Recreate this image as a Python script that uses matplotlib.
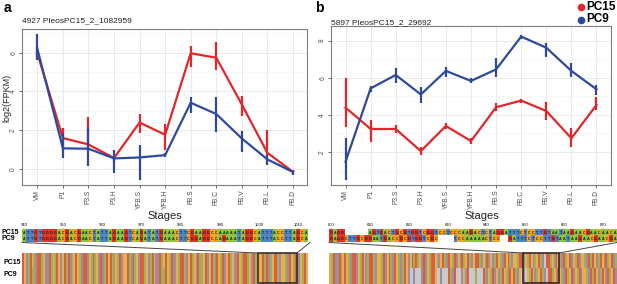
import numpy as np
import matplotlib
matplotlib.use("Agg")
import matplotlib.pyplot as plt
from matplotlib.colors import to_rgb
from matplotlib.lines import Line2D
from matplotlib.patches import Rectangle

plt.rcParams['font.family'] = ['Liberation Sans', 'DejaVu Sans']

W, H = 617, 284

stages = ["VM", "P1", "P3.S", "P3.H", "YFB.S", "YFB.H", "FB.S", "FB.C", "FB.V", "FB.L", "FB.D"]

# Panel a: 4927 PleosPC15_2_1082959
a_title = "4927 PleosPC15_2_1082959"
a_pc15 = [5.97, 1.60, 1.27, 0.57, 2.40, 1.77, 5.97, 5.74, 3.33, 0.84, -0.14]
a_pc15_lo = [5.76, 1.10, 1.00, 0.35, 1.84, 0.98, 5.28, 5.10, 2.75, 0.60, -0.25]
a_pc15_hi = [6.30, 2.13, 2.70, 0.75, 2.82, 2.30, 6.36, 6.57, 3.78, 2.00, -0.05]
a_pc9 = [6.20, 1.07, 1.05, 0.55, 0.60, 0.72, 3.42, 2.84, 1.58, 0.50, -0.15]
a_pc9_lo = [5.60, 0.55, 0.15, -0.22, -0.57, 0.62, 2.87, 1.89, 0.89, 0.20, -0.28]
a_pc9_hi = [6.95, 1.85, 2.18, 0.98, 1.24, 0.82, 3.73, 3.73, 1.96, 0.75, -0.05]

# Panel b: 5897 PleosPC15_2_29692
b_title = "5897 PleosPC15_2_29692"
b_pc15 = [4.39, 3.24, 3.24, 2.05, 3.40, 2.59, 4.41, 4.77, 4.21, 2.74, 4.53]
b_pc15_lo = [3.33, 2.56, 3.00, 1.84, 3.25, 2.44, 4.20, 4.66, 3.72, 2.29, 4.26]
b_pc15_hi = [5.97, 3.72, 3.46, 2.29, 3.54, 2.74, 4.62, 4.88, 4.71, 3.28, 4.95]
b_pc9 = [1.48, 5.43, 6.15, 5.10, 6.37, 5.83, 6.45, 8.22, 7.62, 6.37, 5.38]
b_pc9_lo = [0.49, 5.25, 5.70, 4.62, 6.06, 5.70, 6.06, 8.10, 7.14, 6.02, 5.07]
b_pc9_hi = [2.74, 5.56, 6.50, 5.48, 6.60, 5.97, 7.05, 8.32, 7.90, 6.78, 5.61]

# Alignment zoom strips
a_aln_start = 940
a_aln_pc15 = "ATTGTGGGGACGACGAACTATTAGAAGTCAGATATGAAACTTCGAAGGCCAAAAATAGGCATTTACCTTAGCA"
a_aln_pc9 = "ATTGTGGGGACGACGAACTATTAGAAGTCAGATATGAAACTTCGGAGGCCAGAAATAGGCATTTACCTTAGCA"
a_aln_ticks = [940, 950, 960, 970, 980, 990, 1000, 1010]
b_aln_start = 600
b_aln_pc15 = "GAGG......AGTGACTGCGTGGTCGGTCCTCCCAAGACTCTAGGATTTCTCCTTGTAATAAGAACGAACAACA"
b_aln_pc9 = "GAGGCTTGCGGAATGACCGCGTGGTCGC....TCCAAAAACTCC..GATTTCTCCTTGTAATAAGAACGAACGA"
b_aln_ticks = [600, 610, 620, 630, 640, 650, 660, 670]

# Whole-gene overview barcodes
a_bar_pc15 = ("GCTAGCATGGACTTGACAGCTCGAGTACGCATGGTCAGACTGTAGCGATC"
              "AGTCCGATGACTGGACTAGCTTGACGCAGTTCAGGATCGACTGAACGTCG"
              "ATGCAGTCGACTTGCAGGACTGATCCGAGTACGGATCCATGCAGGTCAGC")
a_bar_pc9 = ("GCTAGAATGGACTTGACAGCTCGAGTACGCATGGTCAGACTGTAGCGATC"
             "AGTCCGATGACTGGACTAGCTTGAAGCAGTTCAGGATCGACTGAACGTCG"
             "ATGCAGTCGACTTGCAGGACTGATCCGAGTACGGATCCATGCAGGTCAGC")
b_bar_pc15 = ("CAGTTGACGCATGGTCAGCTAGGATCCAGTCGATGCATAGCTCGAGACTG"
              "TCAGGCATCGATGCAGTCTGACGATCGGATCAGTCTAGCATGCGATCCAG"
              "GTCAGCTACGAT-GGACTGCATGACGTCAGTCCATGAGCTAGCTGACGTA")
b_bar_pc9 = ("CAGTTGACGCATGGTCAGCTAGGATCCAGTCGATGCATAGCT--T---TG"
             "TCAGGC--T---GATG---TCTG---A---GATCAGTCTAGCATGCGATC"
             "-T-CAGCTACGAT-GGACTGCATGACGTCAGTCCATGAGCTAGCTGACGT")

RED = "#e3262b"
BLUE = "#2f4a9c"
nuc_col = {'A': '#8cc63f', 'C': '#f5a623', 'G': '#e2332b', 'T': '#4f86c6', '.': '#ffffff', '-': '#ffffff'}
bar_col = {'A': '#a4ad58', 'C': '#e6b04e', 'G': '#d9603f', 'T': '#a08c9e', '-': '#c9c9c9'}

fig = plt.figure(figsize=(W / 100, H / 100), dpi=100)


def px_axes(l, t, r, b):
    return fig.add_axes([l / W, 1 - b / H, (r - l) / W, (b - t) / H])


def fx(p):
    return p / W


def fy(p):
    return 1 - p / H


def line_panel(ax, pc15, lo15, hi15, pc9, lo9, hi9, ylim, yticks, yminor, xlim):
    x = np.arange(1, len(stages) + 1)
    ax.set_xlim(*xlim)
    ax.set_ylim(*ylim)
    ax.set_xticks(x)
    ax.set_xticklabels(stages, rotation=90, fontsize=4.8, color='#4d4d4d')
    ax.set_yticks(yticks)
    ax.set_yticklabels([str(v) for v in yticks], rotation=90, fontsize=4.8,
                       color='#4d4d4d', va='center')
    ax.set_yticks(yminor, minor=True)
    ax.tick_params(axis='both', which='major', length=2, width=0.5, color='#333333', pad=1.5)
    ax.tick_params(axis='y', which='minor', length=0)
    ax.grid(True, which='major', color='#e6e6e6', lw=0.6)
    ax.grid(True, which='minor', axis='y', color='#f2f2f2', lw=0.4)
    ax.set_axisbelow(True)
    for s in ax.spines.values():
        s.set_color('#7f7f7f')
        s.set_linewidth(0.8)
    ax.vlines(x, lo15, hi15, color=RED, lw=1.6, zorder=3)
    ax.plot(x, pc15, color=RED, lw=1.6, zorder=3)
    ax.vlines(x, lo9, hi9, color=BLUE, lw=1.6, zorder=4)
    ax.plot(x, pc9, color=BLUE, lw=1.6, zorder=4)


ax_a = px_axes(22, 29, 307, 185)
line_panel(ax_a, a_pc15, a_pc15_lo, a_pc15_hi, a_pc9, a_pc9_lo, a_pc9_hi,
           (-0.82, 7.22), [0, 2, 4, 6], [1, 3, 5, 7], (0.4, 11.55))
ax_b = px_axes(331, 26, 611, 185)
line_panel(ax_b, b_pc15, b_pc15_lo, b_pc15_hi, b_pc9, b_pc9_lo, b_pc9_hi,
           (0.22, 8.79), [2, 4, 6, 8], [1, 3, 5, 7], (0.42, 11.58))

fig.text(fx(22), fy(21), a_title, fontsize=6, ha='left', va='center', color='#222222')
fig.text(fx(331), fy(22.5), b_title, fontsize=6, ha='left', va='center', color='#222222')
fig.text(fx(4), fy(8), "a", fontsize=10, fontweight='bold', ha='left', va='center')
fig.text(fx(315), fy(8), "b", fontsize=10, fontweight='bold', ha='left', va='center')
fig.text(fx(7), fy(98), "log2(FPKM)", fontsize=6.5, rotation=90, ha='center', va='center', color='#222222')
fig.text(fx(165), fy(216), "Stages", fontsize=8, ha='center', va='center', color='#222222')
fig.text(fx(482), fy(216), "Stages", fontsize=8, ha='center', va='center', color='#222222')

# legend
for yy, col, lab in [(6.5, RED, "PC15"), (19.5, BLUE, "PC9")]:
    fig.add_artist(Line2D([fx(581)], [fy(yy)], marker='o', ms=5.5, mec='none', mfc=col,
                          linestyle='none', transform=fig.transFigure))
    fig.text(fx(586), fy(yy), lab, fontsize=8.5, fontweight='bold', ha='left', va='center')


def strip(l, r, t, b, s1, s2, start, ticks):
    ax = px_axes(l, t, r, b)
    n = len(s1)
    img = np.array([[to_rgb(nuc_col[c]) for c in s1], [to_rgb(nuc_col[c]) for c in s2]])
    ax.imshow(img, aspect='auto', extent=(0, n, 2, 0), interpolation='nearest')
    for row, s in enumerate((s1, s2)):
        for i, c in enumerate(s):
            if c in 'ACGT':
                ax.text(i + 0.5, row + 0.55, c, fontsize=2.6, ha='center', va='center',
                        color='#1a1a1a', fontweight='bold')
            elif c == '.':
                ax.text(i + 0.5, row + 0.5, '.', fontsize=3, ha='center', va='center',
                        color='#555555')
    ax.set_xlim(0, n)
    ax.set_ylim(2, 0)
    ax.set_xticks([t_ - start + 0.5 for t_ in ticks])
    ax.set_xticklabels([str(t_) for t_ in ticks], fontsize=3)
    ax.xaxis.tick_top()
    ax.tick_params(axis='x', length=1, width=0.3, pad=0.3, color='#555555')
    ax.set_yticks([])
    for s in ax.spines.values():
        s.set_visible(False)
    return ax


strip(22, 308, 229, 242, a_aln_pc15, a_aln_pc9, a_aln_start, a_aln_ticks)
strip(329, 617, 229, 242, b_aln_pc15, b_aln_pc9, b_aln_start, b_aln_ticks)
fig.text(fx(2), fy(232), "PC15", fontsize=5, fontweight='bold', ha='left', va='center')
fig.text(fx(2), fy(239), "PC9", fontsize=5, fontweight='bold', ha='left', va='center')


def barcode(l, r, t, b, s1, s2):
    ax = px_axes(l, t, r, b)
    n = len(s1)
    img = np.array([[to_rgb(bar_col[c]) for c in s1], [to_rgb(bar_col[c]) for c in s2]])
    ax.imshow(img, aspect='auto', extent=(0, n, 2, 0), interpolation='nearest')
    ax.set_xlim(0, n)
    ax.set_ylim(2, 0)
    ax.set_xticks([])
    ax.set_yticks([])
    for s in ax.spines.values():
        s.set_visible(False)
    return ax


barcode(22, 308, 253, 284, a_bar_pc15, a_bar_pc9)
barcode(329, 617, 253, 284, b_bar_pc15, b_bar_pc9)
fig.text(fx(4), fy(262), "PC15", fontsize=5, fontweight='bold', ha='left', va='center')
fig.text(fx(4), fy(275), "PC9", fontsize=5, fontweight='bold', ha='left', va='center')

# zoom boxes and connectors
for (bl, br, sl, sr, ec) in [(258, 297, 22, 310, '#333333'), (523, 559, 329, 617, '#3a2626')]:
    fig.patches.append(Rectangle((fx(bl), fy(283)), (br - bl) / W, 30 / H, fill=False,
                                 edgecolor=ec, lw=1.2, transform=fig.transFigure, zorder=10))
    fig.lines.append(Line2D([fx(sl), fx(bl)], [fy(242.5), fy(253)], color='#444444', lw=0.7,
                            transform=fig.transFigure, zorder=10))
    fig.lines.append(Line2D([fx(br), fx(sr)], [fy(253), fy(242.5)], color='#444444', lw=0.7,
                            transform=fig.transFigure, zorder=10))

fig.savefig("out.png", dpi=100)
